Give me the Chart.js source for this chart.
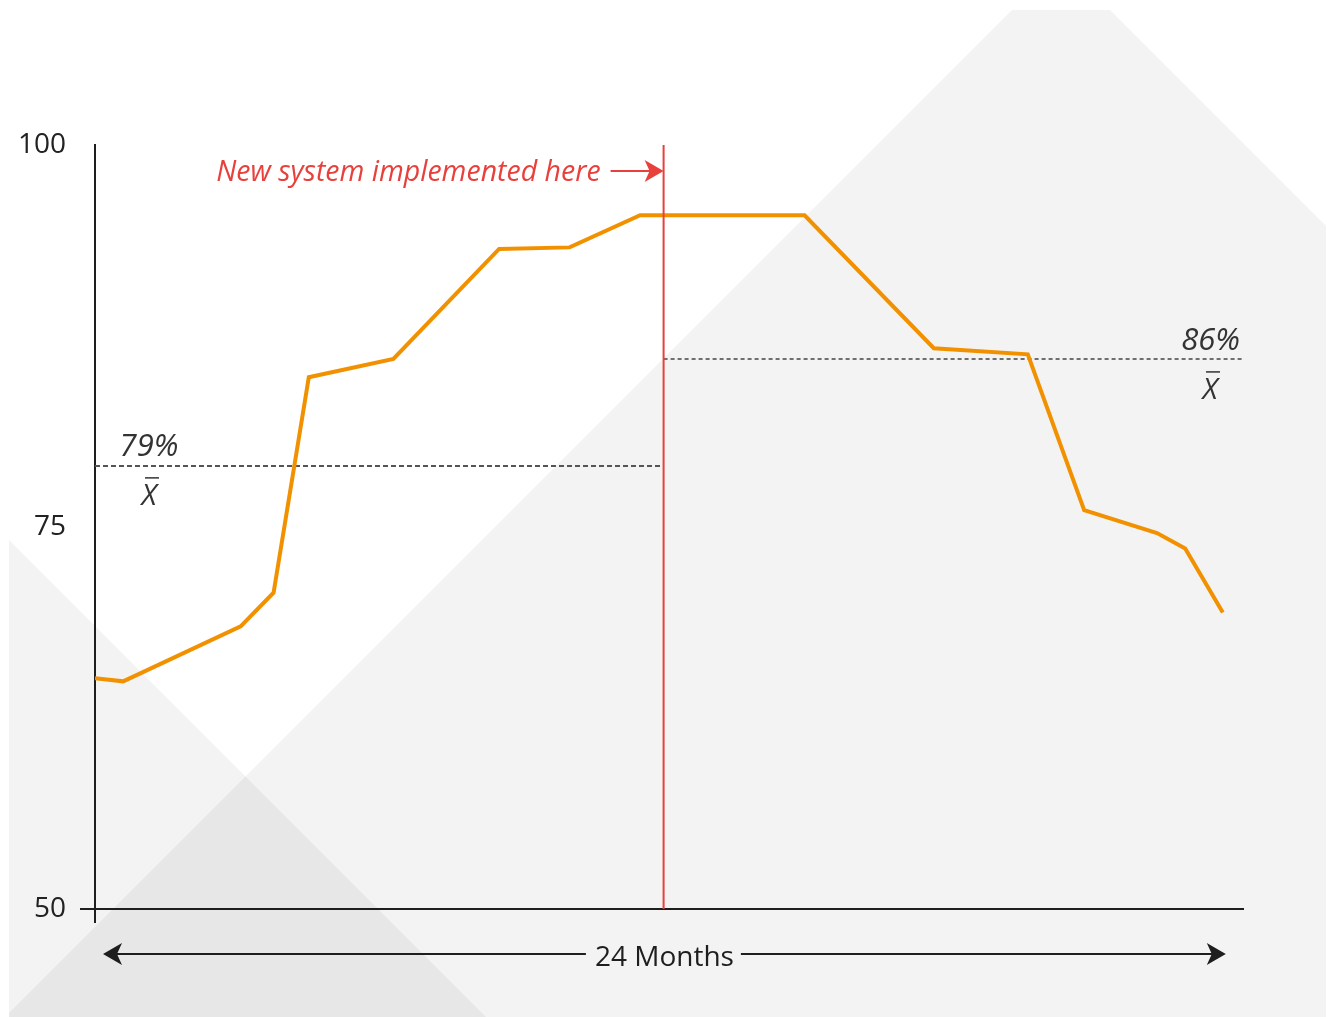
<!DOCTYPE html>
<html>
<head>
<meta charset="utf-8">
<script src="https://cdn.jsdelivr.net/npm/chart.js@4.4.1/dist/chart.umd.min.js"></script>
<style>
  html, body { margin: 0; padding: 0; background: #fff; }
  #wrap { width: 1327px; height: 1017px; }
</style>
</head>
<body>
<div id="wrap"><canvas id="chart" width="1327" height="1017"></canvas></div>
<script>
// --- data ---
const months = [0, 0.6, 3.1, 3.8, 4.55, 6.35, 8.6, 10.1, 11.6, 15.1, 17.85, 19.85, 21.05, 22.6, 23.2, 24];
const scores = [65.1, 64.9, 68.5, 70.7, 84.8, 86.0, 93.2, 93.3, 95.4, 95.4, 86.7, 86.3, 76.1, 74.6, 73.6, 69.4];
const yTicks = [50, 75, 100];
const meanBefore = 79;
const meanAfter = 86;
const changeMonth = 12.1;
const spanMonths = 24;
const spanLabel = '24 Months';
const changeLabel = 'New system implemented here';

const INK = '#1e1e1e';
const RED = '#e8413c';
const ORANGE = '#f29100';

// light grey mountains behind everything
const backdrop = {
    id: 'backdrop',
    beforeDraw(chart) {
        const ctx = chart.ctx;
        ctx.save();
        ctx.fillStyle = '#fff';
        ctx.fillRect(0, 0, chart.width, chart.height);
        ctx.fillStyle = 'rgba(0,0,0,0.047)';
        ctx.beginPath();
        ctx.moveTo(9, 1013);
        ctx.lineTo(1012, 10);
        ctx.lineTo(1110, 10);
        ctx.lineTo(1326, 226);
        ctx.lineTo(1326, 1017);
        ctx.lineTo(9, 1017);
        ctx.closePath();
        ctx.fill();
        ctx.beginPath();
        ctx.moveTo(9, 540);
        ctx.lineTo(486, 1017);
        ctx.lineTo(9, 1017);
        ctx.closePath();
        ctx.fill();
        ctx.restore();
    }
};

function xbar(ctx, cx, base) {
    ctx.font = 'italic 29px "Open Sans"';
    ctx.textAlign = 'center';
    ctx.fillText('X', cx, base);
    ctx.beginPath();
    ctx.lineWidth = 1.5;
    ctx.moveTo(cx - 4, base - 27);
    ctx.lineTo(cx + 10, base - 27);
    ctx.stroke();
}

function arrowHead(ctx, tipX, y, dir) {
    // dir = 1 points right, -1 points left
    ctx.beginPath();
    ctx.moveTo(tipX, y);
    ctx.lineTo(tipX - dir * 19, y - 11);
    ctx.lineTo(tipX - dir * 14, y);
    ctx.lineTo(tipX - dir * 19, y + 11);
    ctx.closePath();
    ctx.fill();
}

// annotations: implementation marker, mean labels, axis ends, span arrow
const notes = {
    id: 'notes',
    afterDatasetsDraw(chart) {
        const { ctx, chartArea: area, scales: { x, y } } = chart;
        const redX = x.getPixelForValue(changeMonth);
        ctx.save();

        // implementation line
        ctx.strokeStyle = RED;
        ctx.lineWidth = 2;
        ctx.beginPath();
        ctx.moveTo(redX, area.top);
        ctx.lineTo(redX, area.bottom);
        ctx.stroke();

        ctx.fillStyle = RED;
        ctx.font = 'italic 28.5px "Open Sans"';
        ctx.textAlign = 'right';
        ctx.textBaseline = 'alphabetic';
        ctx.fillText(changeLabel, redX - 63, 181);
        ctx.beginPath();
        ctx.moveTo(redX - 53, 171);
        ctx.lineTo(redX - 12, 171);
        ctx.stroke();
        arrowHead(ctx, redX, 171, 1);

        // mean labels
        ctx.fillStyle = '#333';
        ctx.strokeStyle = '#333';
        const yB = y.getPixelForValue(meanBefore);
        ctx.font = 'italic 31px "Open Sans"';
        ctx.textAlign = 'center';
        ctx.fillText(meanBefore + '%', x.getPixelForValue(0) + 54, yB - 10);
        xbar(ctx, x.getPixelForValue(0) + 54, yB + 39);

        const yA = y.getPixelForValue(meanAfter);
        ctx.font = 'italic 31px "Open Sans"';
        ctx.textAlign = 'right';
        ctx.fillText(meanAfter + '%', area.right - 3, yA - 9);
        xbar(ctx, area.right - 33, yA + 40);
        ctx.restore();
    },
    afterDraw(chart) {
        const { ctx, chartArea: area, scales: { x } } = chart;
        ctx.save();
        ctx.strokeStyle = INK;
        ctx.fillStyle = INK;
        ctx.lineWidth = 2;

        // axis lines poke past the corner
        ctx.beginPath();
        ctx.moveTo(area.left, area.bottom);
        ctx.lineTo(area.left, area.bottom + 14);
        ctx.moveTo(area.left - 15, area.bottom);
        ctx.lineTo(area.left, area.bottom);
        ctx.stroke();

        // 24 month span arrow
        const ay = 954;
        const l = x.getPixelForValue(0) + 8;
        const r = x.getPixelForValue(spanMonths) + 3;
        const mid = (l + r) / 2;
        ctx.font = '28px "Open Sans"';
        ctx.textAlign = 'center';
        ctx.textBaseline = 'alphabetic';
        const w = ctx.measureText(spanLabel).width;
        ctx.fillText(spanLabel, mid, 966);
        ctx.beginPath();
        ctx.moveTo(l + 10, ay);
        ctx.lineTo(mid - w / 2 - 9, ay);
        ctx.moveTo(mid + w / 2 + 7, ay);
        ctx.lineTo(r - 10, ay);
        ctx.stroke();
        arrowHead(ctx, l, ay, -1);
        arrowHead(ctx, r, ay, 1);
        ctx.restore();
    }
};

new Chart(document.getElementById('chart'), {
    type: 'line',
    data: {
        datasets: [
            {
                data: months.map((m, i) => ({ x: m, y: scores[i] })),
                borderColor: ORANGE,
                borderWidth: 4,
                pointRadius: 0,
                tension: 0,
                borderJoinStyle: 'miter',
                order: 0
            },
            {
                data: [{ x: 0, y: meanBefore }, { x: changeMonth, y: meanBefore }],
                borderColor: '#555',
                borderWidth: 2,
                borderDash: [5, 3],
                pointRadius: 0,
                order: 1
            },
            {
                data: [{ x: changeMonth, y: meanAfter }, { x: 24.43, y: meanAfter }],
                borderColor: '#444',
                borderWidth: 1.5,
                borderDash: [4, 3],
                pointRadius: 0,
                order: 1
            }
        ]
    },
    options: {
        responsive: false,
        animation: false,
        layout: { padding: { left: 0, top: 145, right: 84, bottom: 0 } },
        plugins: {
            legend: { display: false },
            tooltip: { enabled: false }
        },
        scales: {
            x: {
                type: 'linear',
                min: 0,
                max: 24.43,
                grid: { display: false, drawTicks: false },
                border: { display: true, color: INK, width: 2 },
                ticks: { display: false },
                afterFit(s) { s.height = 108; }
            },
            y: {
                type: 'linear',
                min: 50,
                max: 100,
                grid: { display: false, drawTicks: false },
                border: { display: true, color: INK, width: 2 },
                afterBuildTicks(s) { s.ticks = yTicks.map(v => ({ value: v })); },
                ticks: {
                    padding: 29,
                    color: '#222',
                    font: { family: '"Open Sans"', size: 28 }
                },
                afterFit(s) { s.width = 95; }
            }
        }
    },
    plugins: [backdrop, notes]
});
</script>
</body>
</html>
